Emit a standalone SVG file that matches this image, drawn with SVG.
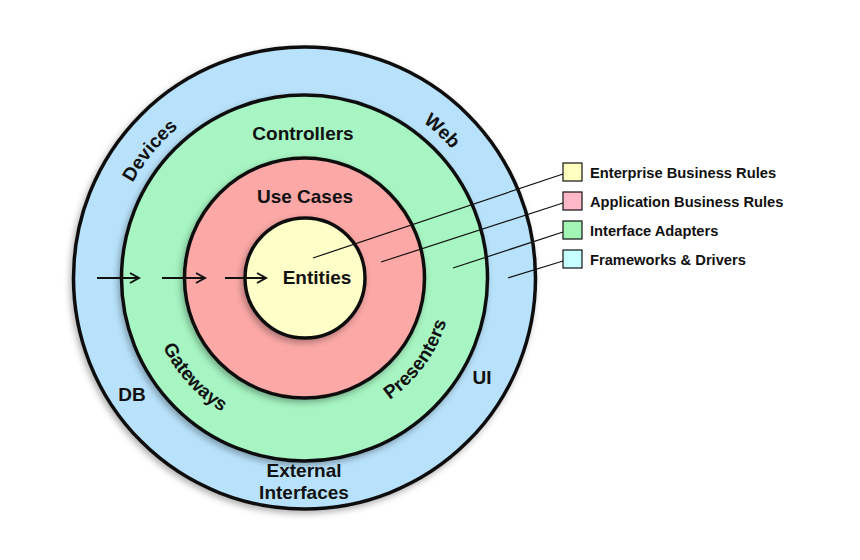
<svg xmlns="http://www.w3.org/2000/svg" width="860" height="560" viewBox="0 0 860 560">
<style>
.ring{stroke:#111;stroke-width:3.5}
.lbl{font-family:"Liberation Sans",Arial,sans-serif;font-weight:bold;font-size:19px;fill:#111}
.leg{font-family:"Liberation Sans",Arial,sans-serif;font-weight:bold;font-size:14.7px;fill:#111}
.box{stroke:#111;stroke-width:1.2}
.ptr{stroke:#111;stroke-width:1.2;fill:none}
.arr{stroke:#111;stroke-width:2;fill:none}
</style>
<defs>
<marker id="ah" markerWidth="12" markerHeight="12" refX="10" refY="6" orient="auto" markerUnits="userSpaceOnUse">
<path d="M1,1 L10,6 L1,11" fill="none" stroke="#111" stroke-width="2"/>
</marker>
<filter id="sh" x="-10%" y="-10%" width="120%" height="120%"><feDropShadow dx="-2" dy="3" stdDeviation="3" flood-opacity="0.3"/></filter>
<path id="pDev" d="M108,278 A196,196 0 0 1 500,278"/>
<path id="pGat" d="M147,278 A157,157 0 0 0 461,278"/>
<path id="pPre" d="M155,278 A149,149 0 0 0 453,278"/>
</defs>
<rect width="860" height="560" fill="#fff"/>
<g id="frameworks"><circle class="ring" cx="304.5" cy="278" r="231" fill="#b8e2fb" filter="url(#sh)"/>
<text class="lbl"><textPath href="#pDev" startOffset="22%" text-anchor="middle">Devices</textPath></text>
<text class="lbl"><textPath href="#pDev" startOffset="74%" text-anchor="middle">Web</textPath></text>
<text class="lbl" x="132" y="401" text-anchor="middle">DB</text>
<text class="lbl" x="482" y="384" text-anchor="middle">UI</text>
<text class="lbl" x="304" y="477" text-anchor="middle">External</text>
<text class="lbl" x="304" y="499" text-anchor="middle">Interfaces</text></g>
<g id="adapters"><circle class="ring" cx="304.5" cy="278" r="183" fill="#a6f5c2" filter="url(#sh)"/>
<text class="lbl" x="303" y="140" text-anchor="middle">Controllers</text>
<text class="lbl"><textPath href="#pGat" startOffset="23.5%" text-anchor="middle">Gateways</textPath></text>
<text class="lbl"><textPath href="#pPre" startOffset="80%" text-anchor="middle">Presenters</textPath></text></g>
<g id="usecases"><circle class="ring" cx="304.5" cy="278" r="120" fill="#fba8a6" filter="url(#sh)"/>
<text class="lbl" x="305" y="203" text-anchor="middle" font-size="17.5">Use Cases</text></g>
<g id="entities"><circle class="ring" cx="305" cy="278" r="60" fill="#fefec8" filter="url(#sh)"/>
<text class="lbl" x="317" y="284" text-anchor="middle" font-size="15">Entities</text></g>
<g id="connectors">
<line class="arr" x1="97" y1="278" x2="139" y2="278" marker-end="url(#ah)"/>
<line class="arr" x1="162" y1="278" x2="205" y2="278" marker-end="url(#ah)"/>
<line class="arr" x1="225" y1="278" x2="266" y2="278" marker-end="url(#ah)"/>
<line class="ptr" x1="313" y1="258" x2="563" y2="174"/>
<line class="ptr" x1="381" y1="262" x2="563" y2="203"/>
<line class="ptr" x1="453" y1="268" x2="563" y2="232"/>
<line class="ptr" x1="508" y1="278" x2="563" y2="261"/>
</g>
<g id="legend">
<rect class="box" x="563" y="163" width="19" height="18" fill="#ffffc0"/>
<rect class="box" x="563" y="192" width="19" height="18" fill="#ffb8c8"/>
<rect class="box" x="563" y="221" width="19" height="18" fill="#a2f5b4"/>
<rect class="box" x="563" y="250" width="19" height="18" fill="#c6feff"/>
<text class="leg" x="590" y="178">Enterprise Business Rules</text>
<text class="leg" x="590" y="207">Application Business Rules</text>
<text class="leg" x="590" y="236">Interface Adapters</text>
<text class="leg" x="590" y="265">Frameworks &amp; Drivers</text>
</g>
</svg>
